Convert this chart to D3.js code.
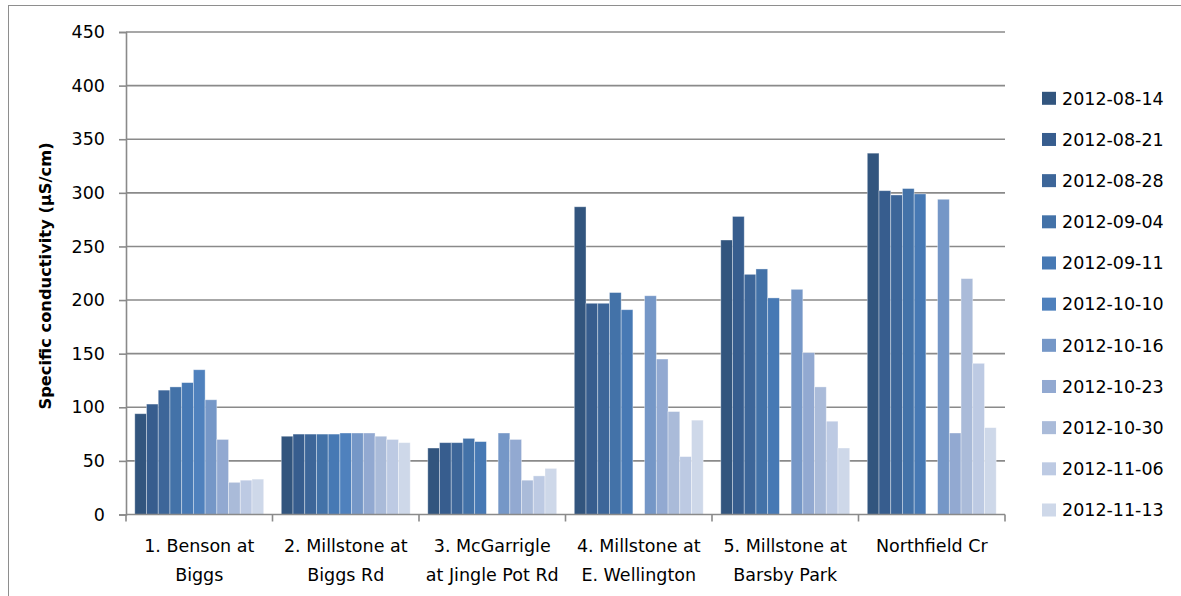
<!DOCTYPE html>
<html>
<head>
<meta charset="utf-8">
<script src="https://cdn.jsdelivr.net/npm/d3@7"></script>
<style>
  html, body { margin: 0; padding: 0; background: #fff; }
  svg { display: block; }
  text { font-family: "DejaVu Sans", sans-serif; fill: #000; }
</style>
</head>
<body>
<svg id="chart" width="1181" height="596"></svg>
<script>
// ---- data ----
const categories = [
  ["1. Benson at", "Biggs"],
  ["2. Millstone at", "Biggs Rd"],
  ["3. McGarrigle", "at Jingle Pot Rd"],
  ["4. Millstone at", "E. Wellington"],
  ["5. Millstone at", "Barsby Park"],
  ["Northfield Cr"]
];
const dates = ["2012-08-14","2012-08-21","2012-08-28","2012-09-04","2012-09-11",
               "2012-10-10","2012-10-16","2012-10-23","2012-10-30","2012-11-06","2012-11-13"];
const s0814 = [94, 73, 62, 287, 256, 337];
const s0821 = [103, 75, 67, 197, 278, 302];
const s0828 = [116, 75, 67, 197, 224, 298];
const s0904 = [119, 75, 71, 207, 229, 304];
const s0911 = [123, 75, 68, 191, 202, 299];
const s1010 = [135, 76, null, null, null, null];
const s1016 = [107, 76, 76, 204, 210, 294];
const s1023 = [70, 76, 70, 145, 151, 76];
const s1030 = [30, 73, 32, 96, 119, 220];
const s1106 = [32, 70, 36, 54, 87, 141];
const s1113 = [33, 67, 43, 88, 62, 81];
const yTicks = [0, 50, 100, 150, 200, 250, 300, 350, 400, 450];

const seriesValues = [s0814, s0821, s0828, s0904, s0911, s1010, s1016, s1023, s1030, s1106, s1113];
const colors = ["#32557e","#375d8e","#3d6699","#4372a8","#4779b4","#4f81bd",
                "#7597c7","#92a9d1","#aabbd9","#bdcae3","#ced8e9"];

// ---- layout ----
const svg = d3.select("#chart");
const plot = { left: 126, right: 1005, top: 32, bottom: 514.5 };

// outer chart border
svg.append("rect")
  .attr("x", 8.5).attr("y", 5.5)
  .attr("width", 1200).attr("height", 700)
  .attr("fill", "none").attr("stroke", "#8e8e8e").attr("stroke-width", 1);

const x0 = d3.scaleBand()
  .domain(d3.range(categories.length))
  .range([plot.left, plot.right])
  .paddingInner(0).paddingOuter(0);

const x1 = d3.scaleBand()
  .domain(d3.range(dates.length))
  .range([0, x0.bandwidth()])
  .paddingInner(0).paddingOuter(0.75);

const y = d3.scaleLinear().domain([0, 450]).range([plot.bottom, plot.top]);

// gridlines
svg.append("g")
  .selectAll("line")
  .data(yTicks.filter(d => d > 0))
  .join("line")
  .attr("x1", plot.left).attr("x2", plot.right)
  .attr("y1", d => y(d)).attr("y2", d => y(d))
  .attr("stroke", "#8a8a8a").attr("stroke-width", 1.6);

// bars
const barData = [];
seriesValues.forEach((vals, si) => {
  vals.forEach((v, ci) => {
    if (v !== null) barData.push({ si, ci, v });
  });
});
svg.append("g")
  .selectAll("rect")
  .data(barData)
  .join("rect")
  .attr("x", d => x0(d.ci) + x1(d.si))
  .attr("y", d => y(d.v))
  .attr("width", x1.bandwidth())
  .attr("height", d => y(0) - y(d.v))
  .attr("fill", d => colors[d.si])
  .attr("stroke", "rgba(255,255,255,0.45)")
  .attr("stroke-width", 0.8);

// y axis
const yAxis = d3.axisLeft(y).tickValues(yTicks).tickSize(7).tickPadding(14);
const gy = svg.append("g").attr("transform", `translate(${plot.left},0)`).call(yAxis);
gy.select(".domain").attr("stroke", "#8a8a8a").attr("stroke-width", 1.6);
gy.selectAll(".tick line").attr("stroke", "#8a8a8a").attr("stroke-width", 1.6);
gy.selectAll(".tick text")
  .style("font-family", "DejaVu Sans, sans-serif")
  .style("font-size", "17.5px").attr("fill", "#000");

// x axis line and ticks (at category boundaries)
svg.append("line")
  .attr("x1", plot.left).attr("x2", plot.right)
  .attr("y1", y(0)).attr("y2", y(0))
  .attr("stroke", "#8a8a8a").attr("stroke-width", 1.6);
const boundaries = d3.range(categories.length + 1).map(i =>
  i < categories.length ? x0(i) : x0(i - 1) + x0.bandwidth());
svg.append("g").selectAll("line")
  .data(boundaries)
  .join("line")
  .attr("x1", d => d).attr("x2", d => d)
  .attr("y1", y(0)).attr("y2", y(0) + 7)
  .attr("stroke", "#8a8a8a").attr("stroke-width", 1.6);

// category labels
const catG = svg.append("g");
categories.forEach((lines, ci) => {
  const t = catG.append("text")
    .attr("x", x0(ci) + x0.bandwidth() / 2)
    .attr("y", 552)
    .attr("text-anchor", "middle")
    .style("font-size", "17.5px");
  lines.forEach((ln, li) => {
    t.append("tspan")
      .attr("x", x0(ci) + x0.bandwidth() / 2)
      .attr("dy", li === 0 ? 0 : 29)
      .text(ln);
  });
});

// y axis title
svg.append("text")
  .attr("transform", `translate(51, 276) rotate(-90)`)
  .attr("text-anchor", "middle")
  .style("font-size", "16.3px")
  .style("font-weight", "bold")
  .text("Specific conductivity (µS/cm)");

// legend
const legend = svg.append("g");
const legY = d3.scalePoint().domain(d3.range(dates.length)).range([98.3, 510]);
const items = legend.selectAll("g").data(dates).join("g")
  .attr("transform", (d, i) => `translate(1042, ${legY(i)})`);
items.append("rect")
  .attr("x", 0).attr("y", -6.5)
  .attr("width", 14).attr("height", 13)
  .attr("fill", (d, i) => colors[i]);
items.append("text")
  .attr("x", 20).attr("y", 0)
  .attr("dy", "0.36em")
  .style("font-size", "17.5px")
  .text(d => d);
</script>
</body>
</html>
